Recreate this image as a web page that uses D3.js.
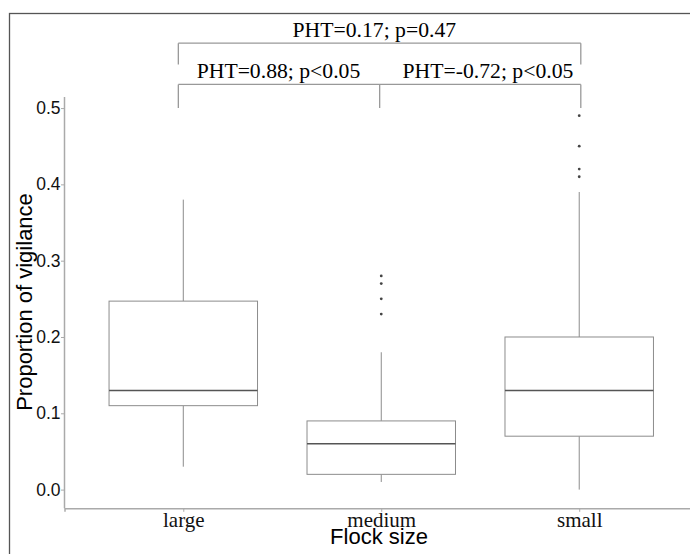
<!DOCTYPE html>
<html>
<head>
<meta charset="utf-8">
<script src="https://cdn.jsdelivr.net/npm/d3@7"></script>
<style>
  body { margin: 0; background: #fff; }
  svg { display: block; }
</style>
</head>
<body>
<script>
document.addEventListener("DOMContentLoaded", function() {
  const width = 690;
  const height = 554;

  // data
  const categories = ["large", "medium", "small"];
  const q1 = [0.11, 0.02, 0.07];
  const median = [0.13, 0.06, 0.13];
  const q3 = [0.247, 0.09, 0.20];
  const whiskerLow = [0.03, 0.01, 0.0];
  const whiskerHigh = [0.38, 0.18, 0.39];
  const outliers = [[], [0.28, 0.27, 0.25, 0.23], [0.49, 0.45, 0.42, 0.41]];
  const yTicks = [0.0, 0.1, 0.2, 0.3, 0.4, 0.5];

  // significance brackets (x in category positions, 1 = large)
  const bracketX = [[0.975, 3.008], [0.975, 1.992, 3.008]];
  const bracketY = [0.585, 0.531];
  const bracketLeg = [0.557, 0.5];
  const labels = ["PHT=0.17; p=0.47", "PHT=0.88; p<0.05", "PHT=-0.72; p<0.05"];
  const labelX = [1.965, 1.481, 2.539];
  const labelRow = [0, 1, 1];

  const panel = { left: 64.5, right: 698, top: 97, bottom: 508.3 };

  const svg = d3.select("body").append("svg")
    .attr("width", width)
    .attr("height", height);

  // outer frame, cut by the window on the right and bottom
  svg.append("rect")
    .attr("x", 9.5).attr("y", 13.5)
    .attr("width", 800).attr("height", 700)
    .attr("fill", "none")
    .attr("stroke", "#555")
    .attr("stroke-width", 1.3);

  const x = d3.scalePoint()
    .domain(categories)
    .range([panel.left, panel.right])
    .padding(0.6);
  const step = x.step();
  const xNum = d3.scaleLinear()
    .domain([1, 3])
    .range([x("large"), x("small")]);

  const y = d3.scaleLinear()
    .domain([-0.0245, 0.5145])
    .range([panel.bottom, panel.top]);

  // axes
  const yAxis = svg.append("g")
    .attr("transform", `translate(${panel.left},0)`)
    .call(d3.axisLeft(y).tickValues(yTicks).tickFormat(d3.format(".1f")).tickSizeOuter(0).tickSize(3.5).tickPadding(0.5));
  yAxis.select(".domain").attr("stroke", "#aaa").attr("stroke-width", 1.5)
    .attr("d", `M0,${panel.top}V${panel.bottom}`);
  yAxis.selectAll(".tick line").attr("stroke", "#aaa");
  yAxis.selectAll(".tick text")
    .attr("fill", "#111")
    .style("font-family", "'Liberation Sans', Arial, sans-serif")
    .style("font-size", "17.5px");

  const xAxis = svg.append("g")
    .attr("transform", `translate(0,${panel.bottom})`)
    .call(d3.axisBottom(x).tickSizeOuter(0).tickSize(3.5).tickPadding(0));
  xAxis.select(".domain").attr("stroke", "#aaa").attr("stroke-width", 1.5);
  xAxis.selectAll(".tick line").attr("stroke", "#aaa");
  xAxis.selectAll(".tick text")
    .attr("fill", "#111")
    .style("font-family", "'Liberation Serif', 'Times New Roman', serif")
    .style("font-size", "21px");

  // boxes
  const boxW = step * 0.75;
  const g = svg.append("g");
  categories.forEach(function(c, i) {
    const cx = x(c);
    g.append("line")
      .attr("x1", cx).attr("x2", cx)
      .attr("y1", y(q3[i])).attr("y2", y(whiskerHigh[i]))
      .attr("stroke", "#8c8c8c");
    g.append("line")
      .attr("x1", cx).attr("x2", cx)
      .attr("y1", y(q1[i])).attr("y2", y(whiskerLow[i]))
      .attr("stroke", "#8c8c8c");
    g.append("rect")
      .attr("x", cx - boxW / 2).attr("width", boxW)
      .attr("y", y(q3[i])).attr("height", y(q1[i]) - y(q3[i]))
      .attr("fill", "#fff")
      .attr("stroke", "#8c8c8c");
    g.append("line")
      .attr("x1", cx - boxW / 2).attr("x2", cx + boxW / 2)
      .attr("y1", y(median[i])).attr("y2", y(median[i]))
      .attr("stroke", "#555")
      .attr("stroke-width", 1.5);
    g.selectAll(null)
      .data(outliers[i])
      .join("circle")
      .attr("cx", cx)
      .attr("cy", d => y(d))
      .attr("r", 1.4)
      .attr("fill", "#444");
  });

  // brackets
  bracketX.forEach(function(xs, k) {
    let path = "";
    xs.forEach(function(v) {
      path += `M${xNum(v)},${y(bracketLeg[k])}V${y(bracketY[k])}`;
    });
    path += `M${xNum(xs[0])},${y(bracketY[k])}H${xNum(xs[xs.length - 1])}`;
    svg.append("path")
      .attr("d", path)
      .attr("fill", "none")
      .attr("stroke", "#999")
      .attr("stroke-width", 1.3);
  });

  svg.selectAll("text.ann")
    .data(labels)
    .join("text")
    .attr("class", "ann")
    .attr("x", (d, i) => xNum(labelX[i]))
    .attr("y", (d, i) => y(bracketY[labelRow[i]]) - 6)
    .attr("text-anchor", "middle")
    .attr("fill", "#000")
    .style("font-family", "'Liberation Serif', 'Times New Roman', serif")
    .style("font-size", "21.7px")
    .text(d => d);

  // axis titles
  svg.append("text")
    .attr("x", 379)
    .attr("y", 544)
    .attr("text-anchor", "middle")
    .attr("fill", "#000")
    .style("font-family", "'Liberation Sans', Arial, sans-serif")
    .style("font-size", "22px")
    .text("Flock size");

  svg.append("text")
    .attr("transform", "translate(31.5,302) rotate(-90)")
    .attr("text-anchor", "middle")
    .attr("fill", "#000")
    .style("font-family", "'Liberation Sans', Arial, sans-serif")
    .style("font-size", "22px")
    .text("Proportion of vigilance");
});
</script>
</body>
</html>
